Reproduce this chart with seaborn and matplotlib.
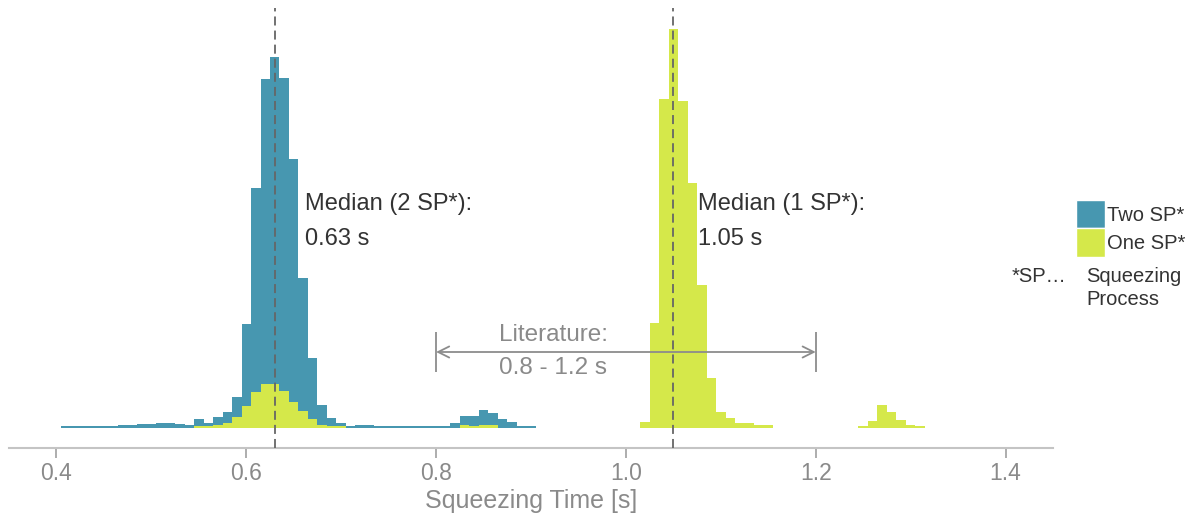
import numpy as np
import pandas as pd
import matplotlib
matplotlib.use("Agg")
import matplotlib.pyplot as plt
from matplotlib.patches import Patch
import seaborn as sns

# Histogram counts per 0.01 s bin (bin centres in seconds)
two_sp_time = [0.41, 0.42, 0.43, 0.44, 0.45, 0.46, 0.47, 0.48, 0.49, 0.50,
               0.51, 0.52, 0.53, 0.54, 0.55, 0.56, 0.57, 0.58, 0.59, 0.60,
               0.61, 0.62, 0.63, 0.64, 0.65, 0.66, 0.67, 0.68, 0.69, 0.70,
               0.71, 0.72, 0.73, 0.74, 0.75, 0.76, 0.77, 0.78, 0.79, 0.80,
               0.81, 0.82, 0.83, 0.84, 0.85, 0.86, 0.87, 0.88, 0.89, 0.90]
two_sp_count = [2, 2, 2, 2, 2, 2, 3, 3, 4, 4,
                5, 5, 4, 3, 9, 5, 11, 16, 31, 104,
                240, 349, 371, 350, 269, 150, 70, 23, 10, 5,
                2, 3, 3, 2, 2, 2, 2, 2, 2, 2,
                2, 5, 12, 12, 18, 15, 9, 6, 2, 2]

one_sp_time = [0.55, 0.56, 0.57, 0.58, 0.59, 0.60, 0.61, 0.62, 0.63, 0.64,
               0.65, 0.66, 0.67, 0.68, 0.69, 0.70,
               0.83, 0.84, 0.85, 0.86,
               1.02, 1.03, 1.04, 1.05, 1.06, 1.07, 1.08, 1.09, 1.10, 1.11,
               1.12, 1.13, 1.14, 1.15,
               1.25, 1.26, 1.27, 1.28, 1.29, 1.30, 1.31]
one_sp_count = [2, 2, 3, 5, 11, 22, 36, 44, 44, 37,
                26, 17, 9, 3, 2, 2,
                3, 2, 3, 3,
                6, 105, 329, 399, 327, 245, 143, 50, 16, 10,
                5, 5, 3, 3,
                2, 7, 23, 16, 8, 3, 2]

median_two = 0.63
median_one = 1.05
lit_low, lit_high = 0.8, 1.2

series_labels = ["Two SP*", "One SP*"]
x_ticks = [0.4, 0.6, 0.8, 1.0, 1.2, 1.4]
x_tick_labels = ["0.4", "0.6", "0.8", "1.0", "1.2", "1.4"]

TEAL = "#4797B0"
YELLOW = "#D5E84A"
DARK = "#333333"
GREY_TXT = "#8a8a8a"

two_df = pd.DataFrame({"time": two_sp_time, "count": two_sp_count})
one_df = pd.DataFrame({"time": one_sp_time, "count": one_sp_count})

sns.set_theme(style="white")
plt.rcParams["font.family"] = ["Liberation Sans", "DejaVu Sans"]

fig = plt.figure(figsize=(11.96, 5.15), dpi=100)
ax = fig.add_axes([9 / 1196, 67 / 515, 1044 / 1196, 440 / 515])

hist_kws = dict(x="time", weights="count", binwidth=0.01, binrange=(0.405, 1.315),
                element="step", fill=True, alpha=1, linewidth=0, ax=ax)
sns.histplot(data=two_df, color=TEAL, zorder=1, **hist_kws)
sns.histplot(data=one_df, color=YELLOW, zorder=2, **hist_kws)

ax.set_xlim(0.35, 1.45)
ax.set_ylim(-20, 420)
ax.set_xticks(x_ticks)
ax.set_xticklabels(x_tick_labels)
ax.set_yticks([])
ax.set_ylabel("")
ax.set_xlabel("Squeezing Time [s]", fontsize=18, color=GREY_TXT, labelpad=3)

for side in ("left", "right", "top"):
    ax.spines[side].set_visible(False)
ax.spines["bottom"].set_color("#c4c4c4")
ax.spines["bottom"].set_linewidth(1.5)
ax.tick_params(axis="x", bottom=True, direction="out", length=7, width=1.2,
               color="#a0a0a0", labelcolor=GREY_TXT, labelsize=16.5, pad=3)

# Median markers
for m in (median_two, median_one):
    ax.axvline(m, color="#666666", lw=1.3, ls=(0, (5, 2.8)), zorder=3)

ax.text(0.662, 218, "Median (2 SP*):", fontsize=17, color=DARK, va="baseline")
ax.text(0.662, 183, f"{median_two:.2f} s", fontsize=17, color=DARK, va="baseline")
ax.text(1.076, 218, "Median (1 SP*):", fontsize=17, color=DARK, va="baseline")
ax.text(1.076, 183, f"{median_one:.2f} s", fontsize=17, color=DARK, va="baseline")

# Literature range
lit_y = 76
ax.annotate("", xy=(lit_low, lit_y), xytext=(lit_high, lit_y),
            arrowprops=dict(arrowstyle="<->", color="#8c8c8c", lw=1.3,
                            mutation_scale=20, shrinkA=0, shrinkB=0), zorder=4)
ax.vlines([lit_low, lit_high], lit_y - 20, lit_y + 20, color="#8c8c8c", lw=1.3, zorder=4)
ax.text(0.866, 93, "Literature:", fontsize=17.5, color=GREY_TXT, va="center")
ax.text(0.866, 60, f"{lit_low} - {lit_high} s", fontsize=17.5, color=GREY_TXT, va="center")

# Legend and footnote
handles = [Patch(facecolor=TEAL, label=series_labels[0]),
           Patch(facecolor=YELLOW, label=series_labels[1])]
fig.legend(handles=handles, loc="upper left",
           bbox_to_anchor=(1076 / 1196, 1 - 200 / 515),
           frameon=False, fontsize=14.5, handlelength=1.45, handleheight=1.8,
           labelspacing=0, handletextpad=0.1, borderpad=0, borderaxespad=0,
           labelcolor=DARK)
fig.text(1066 / 1196, 1 - 282 / 515, "*SP\u2026", fontsize=14.5, color=DARK,
         ha="right", va="baseline")
fig.text(1086 / 1196, 1 - 282 / 515, "Squeezing", fontsize=14.5, color=DARK,
         ha="left", va="baseline")
fig.text(1086 / 1196, 1 - 305 / 515, "Process", fontsize=14.5, color=DARK,
         ha="left", va="baseline")

fig.savefig("out.png", dpi=100)
